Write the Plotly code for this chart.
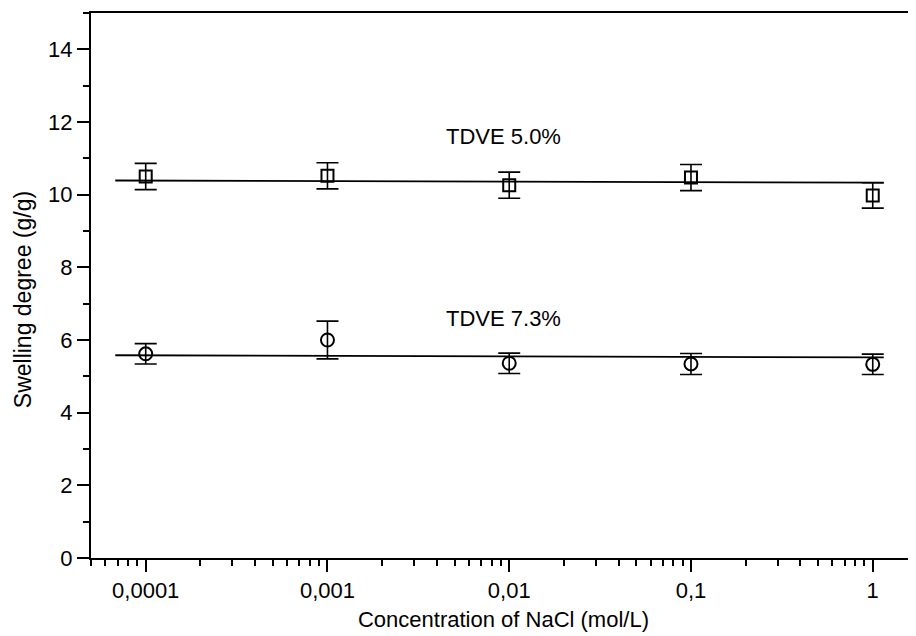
import plotly.graph_objects as go
import math

# ---- data ----
conc = [0.0001, 0.001, 0.01, 0.1, 1]
tdve50 = [10.50, 10.52, 10.26, 10.47, 9.98]
tdve50_err = [0.36, 0.36, 0.36, 0.36, 0.35]
tdve73 = [5.62, 6.00, 5.36, 5.34, 5.33]
tdve73_err = [0.28, 0.52, 0.28, 0.29, 0.28]

fit_x = [6.8e-5, 1.15]
fit50 = [10.39, 10.33]
fit73 = [5.58, 5.52]

tick_vals = [0.0001, 0.001, 0.01, 0.1, 1]
tick_text = ["0,0001", "0,001", "0,01", "0,1", "1"]
minor_vals = [m * 10.0 ** e for e in range(-5, 1) for m in range(2, 10)]

FONT = "Liberation Sans, Arial, sans-serif"

fig = go.Figure()

fig.add_trace(go.Scatter(x=fit_x, y=fit50, mode="lines",
                         line=dict(color="black", width=1.8), showlegend=False))
fig.add_trace(go.Scatter(x=fit_x, y=fit73, mode="lines",
                         line=dict(color="black", width=1.8), showlegend=False))

fig.add_trace(go.Scatter(
    x=conc, y=tdve50, mode="markers", showlegend=False,
    marker=dict(symbol="square-open", size=12, color="black", line=dict(width=2, color="black")),
    error_y=dict(type="data", array=tdve50_err, visible=True, color="black", thickness=1.6, width=11),
))
fig.add_trace(go.Scatter(
    x=conc, y=tdve73, mode="markers", showlegend=False,
    marker=dict(symbol="circle-open", size=13, color="black", line=dict(width=2, color="black")),
    error_y=dict(type="data", array=tdve73_err, visible=True, color="black", thickness=1.6, width=11),
))

fig.add_annotation(x=math.log10(0.01), y=11.6, xshift=-6, text="TDVE 5.0%", showarrow=False,
                   font=dict(family=FONT, size=22, color="black"))
fig.add_annotation(x=math.log10(0.01), y=6.6, xshift=-6, text="TDVE 7.3%", showarrow=False,
                   font=dict(family=FONT, size=22, color="black"))

# y-axis title placed as rotated text left of the tick labels
fig.add_annotation(xref="paper", yref="paper", x=0, y=0.473, xshift=-68,
                   text="Swelling degree (g/g)", textangle=-90, showarrow=False,
                   xanchor="center", yanchor="middle",
                   font=dict(family=FONT, size=23, color="black"))

# page body has an 8px default margin: figure sized to fill the 916x636 window exactly
fig.update_layout(
    width=908, height=628,
    margin=dict(l=83, r=0, t=5, b=78),
    paper_bgcolor="white", plot_bgcolor="white",
    font=dict(family=FONT, size=22, color="black"),
    xaxis=dict(
        type="log", range=[math.log10(5e-5), 0.238],
        showline=True, linecolor="black", linewidth=2, mirror=True,
        showgrid=False, zeroline=False,
        ticks="outside", ticklen=12, tickwidth=2, tickcolor="black",
        tickmode="array", tickvals=tick_vals, ticktext=tick_text,
        tickfont=dict(family=FONT, size=22),
        minor=dict(tickmode="array", tickvals=minor_vals, ticks="outside",
                   ticklen=6, tickwidth=2, tickcolor="black", showgrid=False),
        title=dict(text="Concentration of NaCl (mol/L)", font=dict(family=FONT, size=22), standoff=9),
    ),
    yaxis=dict(
        range=[0, 15],
        showline=True, linecolor="black", linewidth=2, mirror=False,
        showgrid=False, zeroline=False,
        ticks="outside", ticklen=12, tickwidth=2, tickcolor="black",
        tickmode="array", tickvals=[0, 2, 4, 6, 8, 10, 12, 14],
        tickfont=dict(family=FONT, size=22),
        minor=dict(tickmode="array", tickvals=[1, 3, 5, 7, 9, 11, 13, 15], ticks="outside",
                   ticklen=6, tickwidth=2, tickcolor="black", showgrid=False),
        automargin=False,
    ),
)

fig.write_html("out.html")
